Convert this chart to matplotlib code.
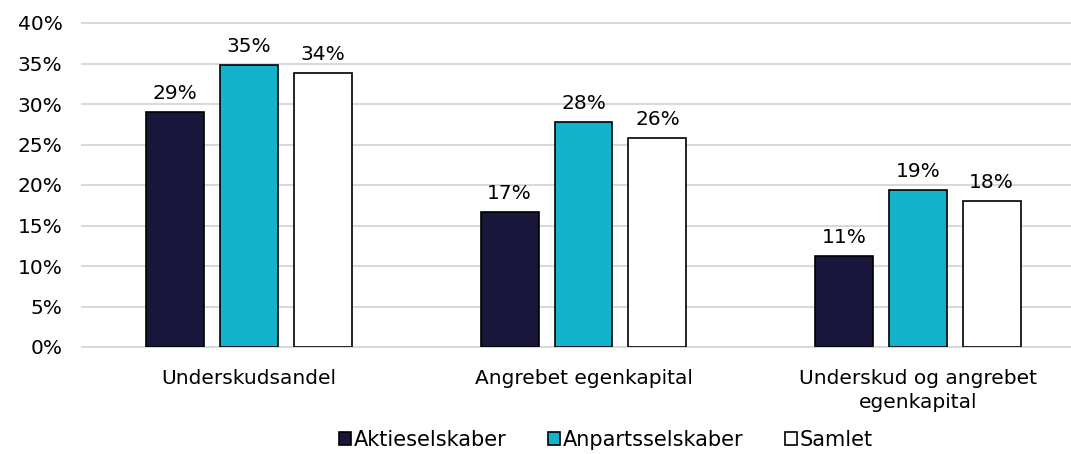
import numpy as np
import matplotlib.pyplot as plt

# data
kategorier = ['Underskudsandel', 'Angrebet egenkapital', 'Underskud og angrebet\negenkapital']
aktie = [29.0, 16.7, 11.2]
anparts = [34.8, 27.8, 19.4]
samlet = [33.8, 25.8, 18.0]
serier = ['Aktieselskaber', 'Anpartsselskaber', 'Samlet']
farver = ['#18163B', '#13B2CD', '#FFFFFF']

plt.rcParams['font.family'] = 'DejaVu Sans'

fig = plt.figure(figsize=(10.71, 4.54), dpi=100)
ax = fig.add_axes([82 / 1071, 1 - 347 / 454, (1085 - 82) / 1071, 324 / 454])

x = np.arange(len(kategorier))
bredde = 0.173
step = 0.221
for i, (vals, navn, farve) in enumerate(zip([aktie, anparts, samlet], serier, farver)):
    pos = x + (i - 1) * step
    bars = ax.bar(pos, vals, bredde, color=farve, edgecolor='black', linewidth=1.2,
                  label=navn, zorder=3)
    for b, v in zip(bars, vals):
        ax.text(b.get_x() + b.get_width() / 2, v + 1.1, f'{round(v):.0f}%',
                ha='center', va='bottom', fontsize=14.5)

ax.set_xlim(-0.5, 2.5)
ax.set_ylim(0, 40)
ax.set_yticks(range(0, 41, 5))
ax.set_yticklabels([f'{t}%' for t in range(0, 41, 5)], fontsize=14.5)
ax.set_xticks(x)
ax.set_xticklabels(kategorier, fontsize=14.5, linespacing=1.35)
ax.tick_params(axis='x', length=0, pad=16)
ax.tick_params(axis='y', length=0, pad=14)
ax.grid(axis='y', color='#D9D9D9', linewidth=1.5, zorder=0)
for gl in ax.get_ygridlines():
    gl.set_clip_on(False)
for s in ax.spines.values():
    s.set_visible(False)

fig.legend(loc='lower center', bbox_to_anchor=(606 / 1071, -0.032), ncol=3, frameon=False,
           fontsize=15, handlelength=0.55, handleheight=0.55, handletextpad=0.15,
           columnspacing=2.0)

fig.savefig('out.png', dpi=100)
